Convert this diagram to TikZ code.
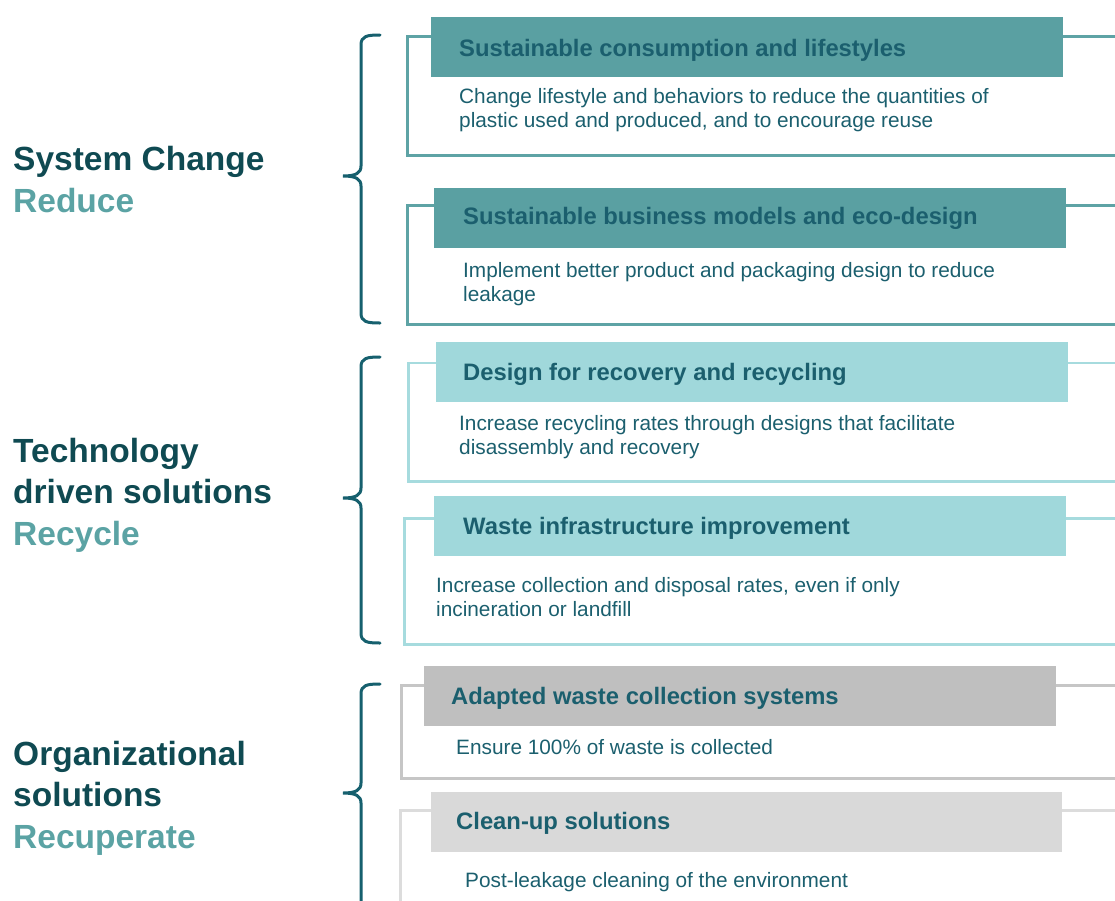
\documentclass[tikz,border=0pt]{standalone}
\usepackage{fontspec}
\setmainfont{Liberation Sans}
\usepackage{tikz}
\usetikzlibrary{positioning}
\usepackage{xcolor}
\definecolor{deepteal}{HTML}{0F4A52}
\definecolor{softteal}{HTML}{5BA3A4}
\definecolor{inkteal}{HTML}{1B5F6E}
\definecolor{braceteal}{HTML}{16606E}
\definecolor{reduceFill}{HTML}{5AA0A2}
\definecolor{reduceLine}{HTML}{5EA3A5}
\definecolor{recycleFill}{HTML}{A0D8DB}
\definecolor{recycleLine}{HTML}{A6DBDE}
\definecolor{grayFillA}{HTML}{BFBFBF}
\definecolor{grayLineA}{HTML}{C6C6C6}
\definecolor{grayFillB}{HTML}{D9D9D9}
\definecolor{grayLineB}{HTML}{DCDCDC}

\begin{document}
\begin{tikzpicture}[
    x=1pt, y=-1pt,
    frameStyle/.style={rectangle, draw, line width=2.8pt, inner sep=0pt, anchor=north west, minimum width=720pt},
    headStyle/.style={rectangle, inner sep=0pt, anchor=north west, minimum width=632pt, minimum height=60pt},
    titleStyle/.style={anchor=base west, inner sep=0pt, text=inkteal, font=\fontsize{23.8}{28}\selectfont\bfseries},
    descStyle/.style={anchor=base west, inner sep=0pt, text=inkteal, align=left, font=\fontsize{20.8}{23.5}\selectfont},
    groupStyle/.style={anchor=base west, inner sep=0pt, align=left, text=deepteal, font=\fontsize{33.5}{41.5}\selectfont\bfseries},
    braceStyle/.style={draw=braceteal, line width=3pt, line cap=round}
]
    \useasboundingbox (0,0) rectangle (1115,900);

    % Group labels (base = last line)
    \node[groupStyle] (reduce) at (13,212) {System Change\\\textcolor{softteal}{Reduce}};
    \node[groupStyle] (recycle) at (13,545) {Technology\\driven solutions\\\textcolor{softteal}{Recycle}};
    \node[groupStyle] (recup) at (13,848) {Organizational\\solutions\\\textcolor{softteal}{Recuperate}};

    % Braces
    \draw[braceStyle] (380,35) .. controls (367,35) and (361,36) .. (361,45) -- (361,166)
        .. controls (361,173) and (356,176) .. (343,176) .. controls (356,176) and (361,179) .. (361,186)
        -- (361,313) .. controls (361,322) and (367,323) .. (380,323);
    \draw[braceStyle] (380,357) .. controls (367,357) and (361,358) .. (361,367) -- (361,488)
        .. controls (361,495) and (356,498) .. (343,498) .. controls (356,498) and (361,501) .. (361,508)
        -- (361,633) .. controls (361,642) and (367,643) .. (380,643);
    \draw[braceStyle] (380,684) .. controls (367,684) and (361,685) .. (361,694) -- (361,783)
        .. controls (361,790) and (356,793) .. (343,793) .. controls (356,793) and (361,796) .. (361,803)
        -- (361,930);

    % Reduce: consumption
    \node[frameStyle, draw=reduceLine, minimum height=119pt] (frame1) at (406,35) {};
    \node[headStyle, fill=reduceFill, minimum width=632pt] (head1) at (431,17) {};
    \node[titleStyle] (title1) at (459,56) {Sustainable consumption and lifestyles};
    \node[descStyle] (desc1) at (459,127) {Change lifestyle and behaviors to reduce the quantities of\\plastic used and produced, and to encourage reuse};

    % Reduce: business models
    \node[frameStyle, draw=reduceLine, minimum height=119pt] (frame2) at (406,204) {};
    \node[headStyle, fill=reduceFill] (head2) at (434,188) {};
    \node[titleStyle] (title2) at (463,224) {Sustainable business models and eco-design};
    \node[descStyle] (desc2) at (463,301) {Implement better product and packaging design to reduce\\leakage};

    % Recycle: design
    \node[frameStyle, draw=recycleLine, minimum height=118.5pt] (frame3) at (407,361.5) {};
    \node[headStyle, fill=recycleFill, minimum height=59.5pt] (head3) at (436,342) {};
    \node[titleStyle] (title3) at (463,380) {Design for recovery and recycling};
    \node[descStyle] (desc3) at (459,454) {Increase recycling rates through designs that facilitate\\disassembly and recovery};

    % Recycle: infrastructure
    \node[frameStyle, draw=recycleLine, minimum height=126pt] (frame4) at (403,517) {};
    \node[headStyle, fill=recycleFill] (head4) at (434,496) {};
    \node[titleStyle] (title4) at (463,534) {Waste infrastructure improvement};
    \node[descStyle] (desc4) at (436,616) {Increase collection and disposal rates, even if only\\incineration or landfill};

    % Recuperate: collection
    \node[frameStyle, draw=grayLineA, minimum height=93pt] (frame5) at (400,684) {};
    \node[headStyle, fill=grayFillA] (head5) at (424,666) {};
    \node[titleStyle] (title5) at (451,704) {Adapted waste collection systems};
    \node[descStyle] (desc5) at (456,754) {Ensure 100\% of waste is collected};

    % Recuperate: clean-up
    \node[frameStyle, draw=grayLineB, minimum height=150pt] (frame6) at (399,809) {};
    \node[headStyle, fill=grayFillB, minimum width=631pt] (head6) at (431,792) {};
    \node[titleStyle] (title6) at (456,829) {Clean-up solutions};
    \node[descStyle] (desc6) at (465,887) {Post-leakage cleaning of the environment};
\end{tikzpicture}
\end{document}
